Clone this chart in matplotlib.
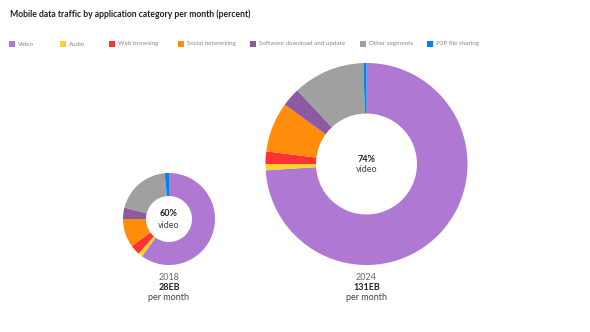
import matplotlib.pyplot as plt
from matplotlib.patches import Rectangle

# ---------- data ----------
categories = ["Video", "Audio", "Web browsing", "Social networking",
              "Software download and update", "Other segments", "P2P file sharing"]
colors = ["#AF78D2", "#FAD22D", "#FF3232", "#FF8C0A", "#8C5AA0", "#A0A0A0", "#0082F0"]

share_2018 = [60, 1.5, 3.5, 10, 4, 19.5, 1.5]
share_2024 = [74, 1, 2, 8, 3, 11.5, 0.5]

years = ["2018", "2024"]
volumes = ["28EB", "131EB"]
center_labels = ["60%", "74%"]

W, H = 590, 332
plt.rcParams["font.family"] = ["Lato", "DejaVu Sans"]

fig = plt.figure(figsize=(W / 100, H / 100), dpi=100)
ax = fig.add_axes([0, 0, 1, 1])


def y(py):
    # pixel row (from top) -> data y (from bottom)
    return H - py


# donuts: (center x, center y, radius) in pixels
donuts = [(169, 219, 46, share_2018), (366.5, 164, 101, share_2024)]
for cx, cy, r, vals in donuts:
    ax.pie(vals, colors=colors, startangle=90, counterclock=False,
           radius=r, center=(cx, y(cy)),
           wedgeprops=dict(width=r * 0.5, linewidth=0))

ax.set_xlim(0, W)
ax.set_ylim(0, H)
ax.set_aspect("auto")
ax.axis("off")

# center + caption texts
txt = "#444444"
for (cx, cy, r, _), pct, yr, vol in zip(donuts, center_labels, years, volumes):
    ax.text(cx, y(cy - 5), pct, ha="center", va="center", fontsize=6.5,
            fontweight="bold", color="#222222")
    ax.text(cx, y(cy + 6), "video", ha="center", va="center", fontsize=6.5, color=txt)
    base = cy + r
    ax.text(cx, y(base + 13), yr, ha="center", va="center", fontsize=6.5, color="#666666")
    ax.text(cx, y(base + 22), vol, ha="center", va="center", fontsize=6.5,
            fontweight="bold", color="#222222")
    ax.text(cx, y(base + 33), "per month", ha="center", va="center", fontsize=6.5, color=txt)

# title
ax.text(10, y(14), "Mobile data traffic by application category per month (percent)",
        ha="left", va="center", fontsize=6.2, fontweight="bold", color="#222222")

# legend
legend_x = [9, 60, 109, 178, 250, 360, 427]
for lx, lab, c in zip(legend_x, categories, colors):
    ax.add_patch(Rectangle((lx, y(46.5)), 5.5, 5.5, facecolor=c, edgecolor="none"))
    ax.text(lx + 9, y(44), lab, ha="left", va="center", fontsize=4.5, color="#888888")

fig.savefig("out.png", dpi=100, facecolor="white")
